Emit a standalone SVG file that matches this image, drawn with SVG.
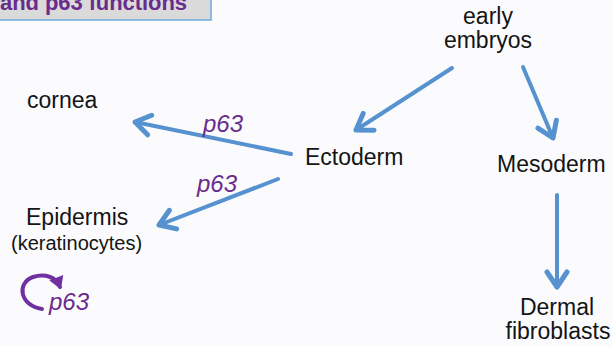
<svg xmlns="http://www.w3.org/2000/svg" width="613" height="347" viewBox="0 0 613 347">
<defs>
<style>
.lbl{font-family:"Liberation Sans",Arial,sans-serif;font-size:23px;fill:#141414}
.sm{font-size:20px}
.p63{font-family:"Liberation Sans",Arial,sans-serif;font-size:24px;font-style:italic;fill:#6a2c8c}
.conn{stroke:#5592cf;stroke-width:4;fill:none;stroke-linecap:round}
</style>
<marker id="ah" markerUnits="userSpaceOnUse" markerWidth="30" markerHeight="30" viewBox="-16 -12 20 24" refX="0" refY="0" orient="auto">
<path d="M -12 -8 L 0 0 L -12 8" fill="none" stroke="#5592cf" stroke-width="4" stroke-linecap="round" stroke-linejoin="round"/>
</marker>
<marker id="ph" markerUnits="userSpaceOnUse" markerWidth="20" markerHeight="20" viewBox="-10 -8 14 16" refX="0" refY="0" orient="auto">
<path d="M -8 -6 L 2 0 L -8 6 Z" fill="#7030a0"/>
</marker>
</defs>
<rect width="613" height="347" fill="#fbfbfd"/>
<g id="title">
<rect x="-5" y="-10" width="216" height="30" fill="#dadada" stroke="#6fa8dc" stroke-width="1.5"/>
<text x="0" y="10" font-family="Liberation Sans,Arial,sans-serif" font-size="22" font-weight="bold" fill="#6a2c8c" textLength="187">and p63 functions</text>
</g>
<g id="connectors">
<line class="conn" x1="452" y1="68" x2="356" y2="130" marker-end="url(#ah)"/>
<line class="conn" x1="523" y1="67" x2="553" y2="138" marker-end="url(#ah)"/>
<line class="conn" x1="291" y1="154" x2="135" y2="122" marker-end="url(#ah)"/>
<line class="conn" x1="278" y1="179" x2="159" y2="225" marker-end="url(#ah)"/>
<line class="conn" x1="557" y1="195" x2="557" y2="287" marker-end="url(#ah)"/>
<path d="M 42 309 C 20 306, 16 283, 33 277 C 45 273, 56 277, 60 287" fill="none" stroke="#7030a0" stroke-width="4" stroke-linecap="round" marker-end="url(#ph)"/>
</g>
<g id="early">
<text class="lbl" x="488" y="24" text-anchor="middle">early</text>
<text class="lbl" x="488" y="48" text-anchor="middle">embryos</text>
</g>
<g id="ectoderm"><text class="lbl" x="305" y="165">Ectoderm</text></g>
<g id="mesoderm"><text class="lbl" x="497" y="172">Mesoderm</text></g>
<g id="cornea"><text class="lbl" x="27" y="108">cornea</text></g>
<g id="epidermis">
<text class="lbl" x="26" y="225">Epidermis</text>
<text class="lbl sm" x="11" y="250">(keratinocytes)</text>
</g>
<g id="dermal">
<text class="lbl" x="557" y="315" text-anchor="middle">Dermal</text>
<text class="lbl" x="558" y="339" text-anchor="middle">fibroblasts</text>
</g>
<g id="labels">
<text class="p63" x="203" y="132">p63</text>
<text class="p63" x="197" y="192">p63</text>
<text class="p63" x="49" y="310">p63</text>
</g>
</svg>
